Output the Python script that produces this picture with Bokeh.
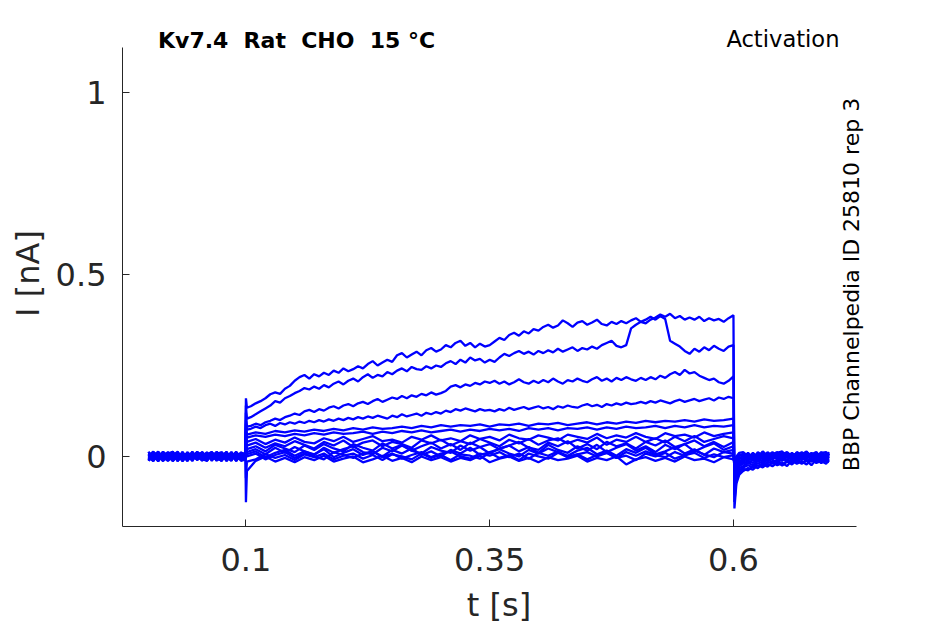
import math
from bokeh.plotting import figure
from bokeh.models import Range1d, Label, FixedTicker, CustomJSTickFormatter
from bokeh.embed import file_html
from bokeh.resources import INLINE

# ---- time base (s) ----
T_PRE = [0.000, 0.005, 0.010, 0.015, 0.020, 0.025, 0.030, 0.035, 0.040, 0.045,
         0.050, 0.055, 0.060, 0.065, 0.070, 0.075, 0.080, 0.085, 0.090, 0.095, 0.0995]
T_PULSE = [0.100, 0.101,
           0.11, 0.12, 0.13, 0.14, 0.15, 0.16, 0.17, 0.18, 0.19, 0.20,
           0.21, 0.22, 0.23, 0.24, 0.25, 0.26, 0.27, 0.28, 0.29, 0.30,
           0.31, 0.32, 0.33, 0.34, 0.35, 0.36, 0.37, 0.38, 0.39, 0.40,
           0.41, 0.42, 0.43, 0.44, 0.45, 0.46, 0.47, 0.48, 0.49, 0.50,
           0.51, 0.52, 0.53, 0.54, 0.55, 0.56, 0.57, 0.58, 0.59, 0.60]
T_PULSE_FINE = [0.100, 0.101,
                0.105, 0.110, 0.115, 0.120, 0.125, 0.130, 0.135, 0.140, 0.145, 0.150,
                0.155, 0.160, 0.165, 0.170, 0.175, 0.180, 0.185, 0.190, 0.195, 0.200,
                0.205, 0.210, 0.215, 0.220, 0.225, 0.230, 0.235, 0.240, 0.245, 0.250,
                0.255, 0.260, 0.265, 0.270, 0.275, 0.280, 0.285, 0.290, 0.295, 0.300,
                0.305, 0.310, 0.315, 0.320, 0.325, 0.330, 0.335, 0.340, 0.345, 0.350,
                0.355, 0.360, 0.365, 0.370, 0.375, 0.380, 0.385, 0.390, 0.395, 0.400,
                0.405, 0.410, 0.415, 0.420, 0.425, 0.430, 0.435, 0.440, 0.445, 0.450,
                0.455, 0.460, 0.465, 0.470, 0.475, 0.480, 0.485, 0.490, 0.495, 0.500,
                0.505, 0.510, 0.515, 0.520, 0.525, 0.530, 0.535, 0.540, 0.545, 0.550,
                0.555, 0.560, 0.565, 0.570, 0.575, 0.580, 0.585, 0.590, 0.595, 0.600]
T_POST = [0.601, 0.603, 0.606, 0.610,
          0.615, 0.620, 0.625, 0.630, 0.635, 0.640, 0.645, 0.650, 0.655, 0.660,
          0.665, 0.670, 0.675, 0.680, 0.685, 0.690, 0.695, 0.698]
T = T_PRE + T_PULSE + T_POST
T_FINE = T_PRE + T_PULSE_FINE + T_POST

# ---- current traces (nA); the four largest are sampled more finely ----
TRACE_01 = ([0.006, -0.010, 0.012, -0.004, 0.009, -0.013, 0.004, -0.007, 0.011, -0.002,
             0.008, -0.012, 0.003, -0.009, 0.013, -0.005, 0.007, -0.011, 0.010, -0.003, 0.004]
            + [0.160, 0.134,
               0.138, 0.146, 0.152, 0.160, 0.171, 0.176, 0.172, 0.186, 0.194, 0.208,
               0.218, 0.224, 0.214, 0.226, 0.220, 0.230, 0.224, 0.236, 0.230, 0.242,
               0.234, 0.240, 0.248, 0.242, 0.254, 0.262, 0.250, 0.258, 0.266, 0.260,
               0.278, 0.284, 0.272, 0.280, 0.288, 0.278, 0.292, 0.298, 0.288, 0.294,
               0.306, 0.300, 0.312, 0.318, 0.304, 0.312, 0.300, 0.310, 0.302, 0.306,
               0.316, 0.326, 0.320, 0.334, 0.340, 0.332, 0.344, 0.338, 0.350, 0.346,
               0.356, 0.362, 0.354, 0.360, 0.374, 0.366, 0.356, 0.368, 0.372, 0.362,
               0.368, 0.376, 0.364, 0.360, 0.370, 0.364, 0.372, 0.366, 0.374, 0.380,
               0.370, 0.376, 0.384, 0.376, 0.386, 0.378, 0.318, 0.310, 0.302, 0.290,
               0.282, 0.296, 0.288, 0.300, 0.292, 0.304, 0.296, 0.290, 0.302, 0.306]
            + [-0.143, -0.075, -0.050, -0.040, -0.032, -0.036, -0.024, -0.030, -0.020, -0.027,
               -0.016, -0.025, -0.014, -0.022, -0.010, -0.020, -0.012, -0.024, -0.008, -0.018, -0.012, -0.016])
TRACE_02 = ([-0.009, 0.011, -0.002, 0.013, -0.008, 0.005, -0.012, 0.008, -0.004, 0.012,
             -0.010, 0.002, 0.010, -0.006, 0.004, -0.013, 0.009, -0.001, 0.012, -0.008, -0.002]
            + [0.140, 0.104,
               0.108, 0.116, 0.124, 0.132, 0.140, 0.152, 0.148, 0.160, 0.166, 0.174,
               0.180, 0.188, 0.184, 0.192, 0.186, 0.196, 0.190, 0.200, 0.206, 0.198,
               0.208, 0.214, 0.206, 0.218, 0.226, 0.216, 0.224, 0.220, 0.232, 0.226,
               0.236, 0.242, 0.234, 0.246, 0.240, 0.238, 0.248, 0.242, 0.250, 0.246,
               0.256, 0.262, 0.254, 0.266, 0.258, 0.272, 0.264, 0.268, 0.258, 0.266,
               0.260, 0.272, 0.282, 0.276, 0.284, 0.290, 0.282, 0.288, 0.280, 0.290,
               0.284, 0.292, 0.286, 0.296, 0.288, 0.294, 0.300, 0.290, 0.298, 0.294,
               0.302, 0.296, 0.306, 0.312, 0.318, 0.304, 0.300, 0.306, 0.352, 0.362,
               0.370, 0.366, 0.376, 0.382, 0.390, 0.384, 0.392, 0.380, 0.386, 0.376,
               0.382, 0.376, 0.384, 0.372, 0.380, 0.374, 0.378, 0.370, 0.380, 0.388]
            + [-0.125, -0.065, -0.044, -0.034, -0.038, -0.026, -0.032, -0.020, -0.028, -0.016,
               -0.024, -0.018, -0.026, -0.010, -0.020, -0.014, -0.022, -0.008, -0.018, -0.012, -0.020, -0.010])
TRACE_03 = ([0.012, -0.003, 0.007, -0.012, 0.002, 0.010, -0.006, 0.013, -0.009, 0.004,
             -0.002, 0.011, -0.011, 0.006, -0.004, 0.009, -0.013, 0.005, -0.006, 0.011, 0.006]
            + [0.120, 0.082,
               0.084, 0.090, 0.086, 0.094, 0.098, 0.104, 0.100, 0.108, 0.112, 0.118,
               0.114, 0.124, 0.128, 0.122, 0.130, 0.126, 0.134, 0.138, 0.132, 0.140,
               0.144, 0.138, 0.146, 0.150, 0.144, 0.152, 0.158, 0.150, 0.156, 0.162,
               0.158, 0.166, 0.160, 0.168, 0.164, 0.172, 0.168, 0.176, 0.170, 0.174,
               0.180, 0.192, 0.196, 0.190, 0.198, 0.194, 0.202, 0.198, 0.206, 0.202,
               0.208, 0.200, 0.206, 0.198, 0.204, 0.212, 0.204, 0.200, 0.208, 0.202,
               0.210, 0.204, 0.214, 0.206, 0.200, 0.210, 0.206, 0.214, 0.208, 0.204,
               0.212, 0.218, 0.208, 0.214, 0.206, 0.216, 0.210, 0.218, 0.212, 0.208,
               0.216, 0.210, 0.218, 0.212, 0.222, 0.216, 0.226, 0.232, 0.224, 0.238,
               0.228, 0.232, 0.222, 0.216, 0.210, 0.214, 0.204, 0.200, 0.208, 0.220]
            + [-0.105, -0.055, -0.038, -0.030, -0.024, -0.030, -0.018, -0.026, -0.014, -0.020,
               -0.010, -0.022, -0.012, -0.016, -0.006, -0.018, -0.010, -0.014, -0.004, -0.016, -0.008, -0.012])
TRACE_04 = ([-0.012, 0.004, -0.009, 0.008, -0.001, -0.011, 0.009, -0.005, 0.006, -0.013,
             0.012, -0.004, 0.007, -0.010, 0.011, 0.001, -0.008, 0.012, -0.003, -0.009, -0.001]
            + [0.100, 0.074,
               0.076, 0.082, 0.078, 0.086, 0.090, 0.084, 0.092, 0.088, 0.094, 0.090,
               0.096, 0.092, 0.098, 0.094, 0.100, 0.096, 0.102, 0.098, 0.104, 0.100,
               0.106, 0.102, 0.108, 0.104, 0.110, 0.106, 0.112, 0.108, 0.104, 0.112,
               0.108, 0.116, 0.110, 0.114, 0.118, 0.112, 0.120, 0.116, 0.122, 0.118,
               0.126, 0.122, 0.130, 0.126, 0.132, 0.128, 0.124, 0.130, 0.126, 0.128,
               0.124, 0.130, 0.126, 0.134, 0.128, 0.132, 0.136, 0.130, 0.134, 0.138,
               0.132, 0.136, 0.130, 0.138, 0.134, 0.140, 0.136, 0.134, 0.140, 0.144,
               0.138, 0.142, 0.136, 0.144, 0.140, 0.146, 0.142, 0.148, 0.144, 0.146,
               0.150, 0.146, 0.152, 0.148, 0.154, 0.150, 0.146, 0.152, 0.156, 0.150,
               0.154, 0.158, 0.152, 0.156, 0.160, 0.154, 0.162, 0.158, 0.164, 0.160]
            + [-0.090, -0.046, -0.032, -0.026, -0.018, -0.024, -0.012, -0.020, -0.008, -0.016,
               -0.012, -0.004, -0.014, -0.008, -0.016, -0.002, -0.012, -0.006, -0.014, -0.004, -0.010, -0.006])
TRACE_05 = ([0.003, 0.013, -0.008, 0.001, 0.012, -0.004, 0.006, -0.012, 0.010, 0.001,
             -0.009, 0.013, -0.002, 0.008, -0.012, 0.004, 0.011, -0.007, 0.002, 0.009, 0.005]
            + [0.090, 0.060,
               0.066, 0.062, 0.070, 0.066, 0.072, 0.068, 0.074, 0.070, 0.076, 0.072,
               0.078, 0.074, 0.080, 0.076, 0.078, 0.082, 0.078, 0.084, 0.080, 0.086,
               0.082, 0.086, 0.084, 0.088, 0.082, 0.088, 0.086, 0.090, 0.084, 0.090,
               0.088, 0.092, 0.086, 0.090, 0.094, 0.088, 0.094, 0.090, 0.096, 0.092,
               0.098, 0.094, 0.098, 0.096, 0.100, 0.096, 0.102, 0.098, 0.100, 0.104]
            + [-0.075, -0.040, -0.026, -0.020, -0.012, -0.018, -0.006, -0.014, -0.002, -0.010,
               -0.014, -0.004, -0.010, 0.000, -0.012, -0.006, 0.002, -0.010, -0.004, -0.012, 0.000, -0.006])
TRACE_06 = ([-0.004, -0.012, 0.006, -0.008, 0.001, 0.013, -0.010, 0.003, -0.013, 0.007,
             0.001, -0.006, 0.012, -0.012, 0.005, -0.002, 0.009, -0.010, 0.008, -0.005, -0.007]
            + [0.080, 0.052,
               0.058, 0.054, 0.060, 0.056, 0.062, 0.058, 0.064, 0.060, 0.066, 0.062,
               0.064, 0.068, 0.062, 0.068, 0.064, 0.070, 0.066, 0.072, 0.066, 0.070,
               0.074, 0.068, 0.074, 0.070, 0.076, 0.072, 0.076, 0.070, 0.078, 0.074,
               0.078, 0.072, 0.078, 0.076, 0.080, 0.074, 0.080, 0.076, 0.082, 0.078,
               0.080, 0.084, 0.078, 0.084, 0.080, 0.086, 0.080, 0.084, 0.082, 0.086]
            + [-0.065, -0.034, -0.022, -0.014, -0.020, -0.008, -0.012, -0.002, -0.010, 0.002,
               -0.008, -0.012, 0.000, -0.006, 0.004, -0.010, -0.002, 0.002, -0.008, 0.001, -0.006, -0.002])
TRACE_07 = ([0.009, 0.002, -0.013, 0.010, -0.006, 0.003, 0.013, -0.008, 0.001, -0.010,
             0.007, 0.010, -0.005, 0.002, -0.011, 0.012, -0.004, 0.006, -0.012, 0.004, 0.009]
            + [0.070, 0.040,
               0.048, 0.034, 0.046, 0.038, 0.052, 0.040, 0.036, 0.050, 0.042, 0.054,
               0.040, 0.048, 0.056, 0.042, 0.046, 0.038, 0.054, 0.046, 0.058, 0.044,
               0.050, 0.042, 0.058, 0.048, 0.054, 0.044, 0.060, 0.050, 0.046, 0.058,
               0.052, 0.044, 0.060, 0.054, 0.048, 0.062, 0.050, 0.058, 0.052, 0.064,
               0.054, 0.048, 0.064, 0.056, 0.060, 0.052, 0.066, 0.056, 0.062, 0.066]
            + [-0.055, -0.028, -0.018, -0.010, -0.004, -0.012, 0.000, -0.008, 0.004, -0.006,
               0.002, -0.010, 0.006, -0.004, -0.008, 0.004, -0.006, 0.006, -0.002, -0.008, 0.004, 0.000])
TRACE_08 = ([-0.010, 0.007, 0.002, -0.013, 0.011, -0.007, -0.001, 0.009, -0.011, 0.008,
             -0.003, -0.009, 0.006, 0.012, -0.006, -0.011, 0.003, 0.008, -0.009, 0.011, -0.004]
            + [0.060, 0.030,
               0.038, 0.024, 0.036, 0.028, 0.042, 0.032, 0.022, 0.040, 0.030, 0.044,
               0.026, 0.038, 0.044, 0.028, 0.040, 0.034, 0.024, 0.044, 0.036, 0.046,
               0.030, 0.042, 0.034, 0.048, 0.038, 0.028, 0.046, 0.036, 0.048, 0.032,
               0.044, 0.050, 0.036, 0.046, 0.038, 0.052, 0.032, 0.046, 0.040, 0.054,
               0.040, 0.050, 0.038, 0.054, 0.042, 0.056, 0.040, 0.048, 0.056, 0.050]
            + [-0.048, -0.024, -0.014, -0.006, -0.012, 0.002, -0.006, 0.006, -0.008, 0.000,
               0.008, -0.004, -0.010, 0.004, 0.000, -0.006, 0.008, -0.002, 0.004, -0.008, 0.006, -0.004])
TRACE_09 = ([0.013, -0.009, 0.008, -0.001, -0.011, 0.007, -0.012, 0.002, 0.009, -0.003,
             0.012, -0.007, -0.012, 0.010, 0.001, -0.005, 0.013, -0.008, 0.005, -0.001, 0.003]
            + [0.050, 0.020,
               0.028, 0.014, 0.032, 0.022, 0.012, 0.030, 0.018, 0.034, 0.022, 0.014,
               0.034, 0.024, 0.016, 0.036, 0.022, 0.032, 0.016, 0.028, 0.038, 0.022,
               0.034, 0.018, 0.038, 0.026, 0.034, 0.020, 0.030, 0.040, 0.024, 0.018,
               0.038, 0.028, 0.042, 0.022, 0.034, 0.020, 0.040, 0.028, 0.036, 0.022,
               0.040, 0.030, 0.044, 0.026, 0.034, 0.044, 0.028, 0.040, 0.026, 0.040]
            + [-0.040, -0.020, -0.010, -0.012, 0.000, -0.006, 0.006, -0.002, 0.010, -0.008,
               0.004, 0.008, -0.004, 0.010, -0.006, 0.002, -0.002, 0.010, -0.006, 0.006, -0.004, 0.008])
TRACE_10 = ([-0.002, 0.009, -0.013, 0.005, 0.010, -0.012, 0.004, -0.010, 0.012, -0.007,
             -0.001, 0.006, -0.009, 0.002, 0.012, -0.008, 0.000, 0.010, -0.013, 0.007, 0.000]
            + [0.040, 0.012,
               0.020, 0.006, 0.024, 0.010, 0.026, 0.014, 0.004, 0.024, 0.010, 0.020,
               0.028, 0.012, 0.006, 0.024, 0.014, 0.030, 0.016, 0.008, 0.026, 0.016,
               0.010, 0.030, 0.016, 0.026, 0.008, 0.022, 0.030, 0.014, 0.026, 0.010,
               0.032, 0.018, 0.010, 0.028, 0.016, 0.032, 0.012, 0.024, 0.034, 0.016,
               0.028, 0.012, 0.032, 0.020, 0.034, 0.014, 0.026, 0.036, 0.018, 0.028]
            + [-0.034, -0.016, -0.006, 0.002, -0.008, 0.006, -0.010, 0.004, -0.002, 0.010,
               -0.006, 0.002, 0.010, -0.004, 0.008, -0.008, 0.004, 0.000, 0.010, -0.004, 0.002, -0.002])
TRACE_11 = ([0.004, -0.013, 0.010, -0.007, 0.001, 0.009, -0.013, 0.011, -0.004, 0.005,
             0.009, -0.011, 0.001, -0.004, 0.008, 0.011, -0.010, -0.003, 0.006, -0.012, -0.008]
            + [0.030, 0.006,
               0.014, -0.002, 0.010, 0.018, 0.002, 0.014, 0.006, 0.020, -0.002, 0.010,
               0.020, 0.004, 0.014, 0.000, 0.018, 0.008, 0.022, 0.004, 0.014, 0.000,
               0.018, 0.008, 0.024, 0.004, 0.012, 0.020, 0.008, 0.000, 0.018, 0.008,
               0.022, 0.012, 0.002, 0.016, 0.024, 0.006, 0.016, 0.002, 0.020, 0.010,
               0.024, 0.006, 0.014, 0.026, 0.008, 0.020, 0.004, 0.022, 0.012, 0.018]
            + [-0.028, -0.012, -0.002, -0.008, 0.006, -0.002, 0.008, -0.006, 0.012, 0.000,
               -0.008, 0.010, 0.002, -0.006, 0.012, 0.004, -0.004, 0.008, -0.002, 0.012, 0.002, 0.006])
TRACE_12 = ([-0.012, 0.003, 0.013, -0.002, -0.012, 0.001, 0.011, -0.002, -0.008, 0.013,
             -0.005, 0.004, -0.012, 0.009, -0.007, 0.003, -0.002, -0.012, 0.011, 0.001, 0.005]
            + [0.020, 0.000,
               0.008, -0.008, 0.004, 0.012, -0.004, 0.008, 0.000, -0.008, 0.012, 0.004,
               -0.004, 0.008, 0.014, -0.002, 0.008, -0.006, 0.004, 0.012, -0.002, 0.008,
               0.014, 0.000, -0.006, 0.008, 0.002, 0.012, -0.002, 0.008, -0.006, 0.010,
               0.002, 0.014, -0.002, 0.006, 0.012, 0.000, 0.010, -0.004, 0.012, 0.002,
               0.014, 0.004, -0.002, 0.012, 0.002, 0.016, 0.006, -0.002, 0.012, 0.008]
            + [-0.022, -0.008, 0.002, 0.008, -0.004, 0.010, -0.004, 0.012, -0.006, 0.006,
               0.012, -0.002, 0.008, 0.002, -0.004, 0.012, -0.002, 0.006, 0.012, -0.004, 0.008, 0.004])
TRACE_13 = ([0.007, -0.005, -0.008, 0.013, -0.004, -0.009, 0.005, -0.013, 0.004, -0.006,
             0.013, -0.001, 0.007, -0.008, -0.002, 0.010, -0.006, 0.012, -0.011, 0.003, 0.009]
            + [-0.060, -0.014,
               -0.008, 0.006, -0.004, 0.004, -0.010, 0.006, -0.002, 0.008, -0.008, 0.002,
               0.008, -0.006, 0.004, -0.010, 0.006, 0.000, -0.008, 0.008, -0.004, 0.004,
               -0.010, 0.006, 0.002, -0.006, 0.010, -0.004, 0.004, -0.010, 0.008, 0.000,
               -0.006, 0.010, -0.002, 0.006, -0.008, 0.004, 0.010, -0.004, 0.002, -0.010,
               0.008, 0.000, 0.010, -0.006, 0.004, 0.010, -0.004, 0.006, -0.002, 0.004]
            + [-0.018, -0.004, 0.006, -0.002, 0.010, -0.006, 0.012, 0.002, 0.006, -0.004,
               0.010, 0.014, -0.002, 0.008, 0.004, -0.002, 0.012, 0.002, -0.004, 0.010, 0.012, 0.002])
TRACE_14 = ([-0.006, 0.012, -0.001, -0.010, 0.008, 0.013, -0.008, 0.005, -0.010, 0.010,
             -0.008, 0.008, -0.004, 0.013, -0.009, -0.006, 0.007, -0.004, 0.013, -0.010, -0.003]
            + [-0.126, -0.040,
               -0.012, 0.000, -0.014, -0.004, -0.016, -0.002, -0.010, 0.002, -0.014, -0.006,
               0.000, -0.016, -0.008, 0.002, -0.012, -0.004, -0.016, 0.000, -0.010, -0.002,
               -0.014, -0.004, -0.010, 0.002, -0.016, -0.006, 0.000, -0.012, -0.004, -0.016,
               -0.002, -0.010, -0.006, 0.002, -0.014, -0.004, -0.010, 0.000, -0.022, -0.008,
               -0.002, -0.012, -0.004, -0.014, 0.000, -0.010, -0.006, -0.016, -0.002, -0.008]
            + [-0.014, 0.000, 0.010, 0.012, 0.000, 0.006, -0.002, 0.014, 0.002, 0.012,
               -0.002, 0.006, 0.012, 0.000, 0.010, 0.006, 0.014, -0.002, 0.008, 0.004, -0.002, 0.012])

FINE_TRACES = [TRACE_01, TRACE_02, TRACE_03, TRACE_04]
TRACES = [TRACE_05, TRACE_06, TRACE_07, TRACE_08, TRACE_09, TRACE_10,
          TRACE_11, TRACE_12, TRACE_13, TRACE_14]

X_LIM = (-0.0266, 0.7262)
Y_LIM = (-0.1925, 1.124)
X_TICKS = [0.1, 0.35, 0.6]
Y_TICKS = [0, 0.5, 1]
TITLE_WORDS = ["Kv7.4", "Rat", "CHO", "15 °C"]   # title "Kv7.4  Rat  CHO  15 °C"
PROTOCOL = "Activation"
SOURCE = "BBP Channelpedia ID 25810 rep 3"
X_LABEL = "t [s]"
Y_LABEL = "I [nA]"

AX = "#262626"
FONT = "DejaVu Sans"

# axes box: 734 x 479 px; the frame is extended above and to the right so that
# the annotation texts are not clipped, while the axis lines keep their bounds
AX_W, AX_H = 734, 479
EXTRA_TOP, EXTRA_RIGHT = 27, 19
sx = AX_W / (X_LIM[1] - X_LIM[0])
sy = AX_H / (Y_LIM[1] - Y_LIM[0])
x_end = X_LIM[1] + EXTRA_RIGHT / sx
y_end = Y_LIM[1] + EXTRA_TOP / sy

p = figure(frame_width=AX_W + EXTRA_RIGHT, frame_height=AX_H + EXTRA_TOP,
           x_range=Range1d(X_LIM[0], x_end), y_range=Range1d(Y_LIM[0], y_end),
           output_backend="svg", toolbar_location=None,
           min_border_left=122, min_border_top=20, min_border_right=50, min_border_bottom=0)
p.outline_line_color = None
p.grid.visible = False
p.background_fill_color = "white"
p.border_fill_color = "white"

for tr in FINE_TRACES:
    p.line(T_FINE, tr, line_color="#0000ff", line_width=2.3)
for tr in TRACES:
    p.line(T, tr, line_color="#0000ff", line_width=2.3)

fmt = CustomJSTickFormatter(code="return String(Math.round(tick*1000)/1000)")
p.xaxis.ticker = FixedTicker(ticks=X_TICKS)
p.yaxis.ticker = FixedTicker(ticks=Y_TICKS)
p.xaxis.bounds = X_LIM
p.yaxis.bounds = Y_LIM
for ax in (p.xaxis, p.yaxis):
    ax.formatter = fmt
    ax.axis_line_color = AX
    ax.axis_line_width = 1
    ax.major_tick_line_color = AX
    ax.major_tick_in = 7
    ax.major_tick_out = 0
    ax.minor_tick_line_color = None
    ax.major_label_text_color = AX
    ax.major_label_text_font = FONT
    ax.major_label_text_font_size = "32px"
    ax.axis_label_text_color = AX
    ax.axis_label_text_font = FONT
    ax.axis_label_text_font_size = "32px"
    ax.axis_label_text_font_style = "normal"
p.xaxis.axis_label = X_LABEL
p.yaxis.axis_label = Y_LABEL
p.xaxis.major_label_standoff = 21
p.xaxis.axis_label_standoff = 12
p.yaxis.major_label_standoff = 16
p.yaxis.axis_label_standoff = 6

# title words, separated by double spaces as in the original
for word, xpos in zip(TITLE_WORDS, [35.5, 121.1, 178.7, 247.3]):
    p.add_layout(Label(x=xpos, y=486, x_units="screen", y_units="screen", text=word,
                       text_font=FONT, text_font_size="22px", text_font_style="bold",
                       text_color="black", text_baseline="middle", text_align="left"))
p.add_layout(Label(x=717, y=488, x_units="screen", y_units="screen", text=PROTOCOL,
                   text_font=FONT, text_font_size="22.6px",
                   text_color="black", text_baseline="middle", text_align="right"))
p.add_layout(Label(x=728.5, y=242, x_units="screen", y_units="screen", text=SOURCE,
                   angle=math.pi / 2, text_font=FONT, text_font_size="22px",
                   text_color="black", text_baseline="middle", text_align="center"))

open("out.html", "w").write(file_html(p, INLINE))
